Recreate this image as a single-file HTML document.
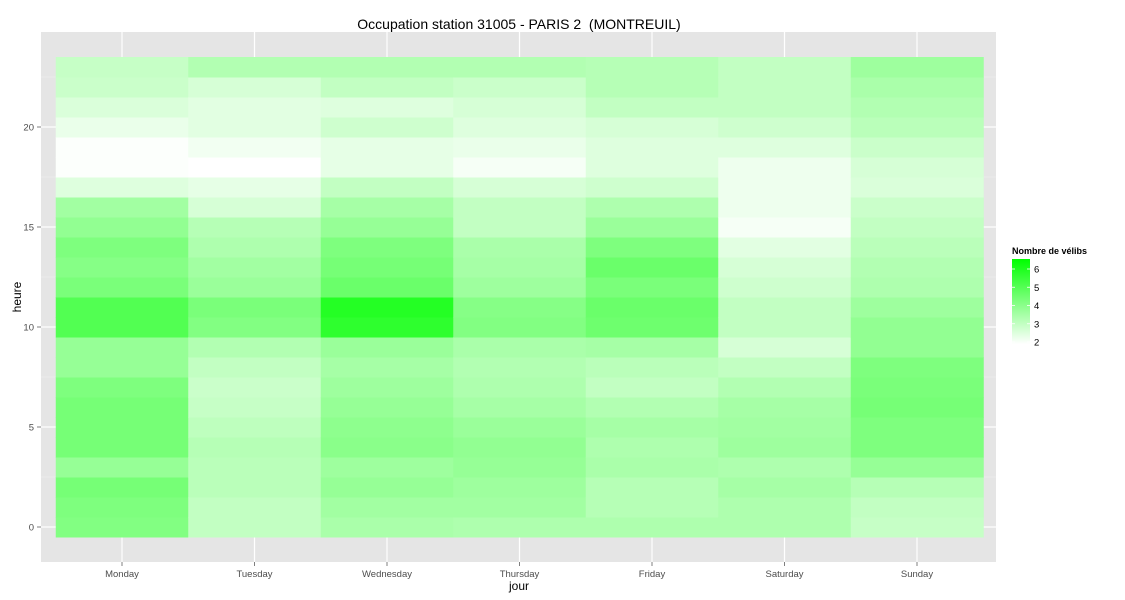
<!DOCTYPE html>
<html><head><meta charset="utf-8"><style>body{margin:0;background:#fff}svg{display:block;font-family:"Liberation Sans",Arial,sans-serif}</style></head>
<body>
<svg id="chart" width="1125" height="600" viewBox="0 0 1125 600" xmlns="http://www.w3.org/2000/svg">
<rect x="41" y="32" width="955" height="530" fill="#e5e5e5"/>
<g id="grid"></g>
<g id="tiles"></g>
<g id="axes"></g>
<text x="519" y="29" font-size="14" text-anchor="middle" fill="#000">Occupation station 31005 - PARIS 2 &#160;(MONTREUIL)</text>
<text x="519" y="590" font-size="12" text-anchor="middle">jour</text>
<text x="21" y="297" font-size="12" text-anchor="middle" transform="rotate(-90 21 297)">heure</text>
<g id="legend">
<text x="1012" y="254" font-size="9" font-weight="bold">Nombre de vélibs</text>
<defs><linearGradient id="lg" x1="0" y1="1" x2="0" y2="0"><stop offset="0" stop-color="#ffffff"/><stop offset="1" stop-color="#00ff00"/></linearGradient></defs>
<rect x="1012" y="259" width="18" height="85" fill="url(#lg)"/>
</g>
</svg>
<script>
const days = ["Monday","Tuesday","Wednesday","Thursday","Friday","Saturday","Sunday"];
const yTicks = [0,5,10,15,20];
const legendTicks = [2,3,4,5,6];
const mon = [4.18,4.25,4.4,3.81,4.4,4.4,4.4,4.25,3.81,3.81,5.06,5.06,4.32,4.1,4.25,3.88,3.59,2.5,1.95,1.95,2.28,2.57,2.86,2.94];
const tue = [3.01,3.01,3.15,3.15,3.23,3.08,2.94,2.86,3.01,3.30,4.18,4.32,3.74,3.59,3.37,3.23,2.64,2.35,1.9,2.13,2.42,2.42,2.64,3.30];
const wed = [3.45,3.59,3.81,3.67,4.03,3.96,3.81,3.67,3.52,3.74,5.71,5.9,4.62,4.4,4.25,3.81,3.52,3.01,2.35,2.35,2.79,2.5,3.01,3.30];
const thu = [3.37,3.59,3.67,3.81,3.88,3.74,3.52,3.37,3.30,3.45,4.18,4.1,3.67,3.52,3.45,3.01,3.01,2.64,2.06,2.28,2.5,2.64,2.86,3.30];
const fri = [3.37,3.23,3.23,3.45,3.37,3.52,3.30,3.01,3.15,3.52,4.55,4.62,4.32,4.62,4.25,3.74,3.37,2.79,2.5,2.5,2.64,3.01,3.23,3.23];
const sat = [3.37,3.37,3.52,3.37,3.67,3.59,3.52,3.30,3.01,2.64,3.01,3.01,2.79,2.64,2.42,2.06,2.21,2.21,2.21,2.5,2.79,3.01,3.01,3.01];
const sun = [2.94,3.01,3.23,3.81,4.25,4.25,4.4,4.32,4.25,3.88,3.88,3.67,3.37,3.30,3.15,3.01,2.86,2.57,2.64,2.86,3.15,3.30,3.45,3.67];
const series = [mon,tue,wed,thu,fri,sat,sun];

const NS="http://www.w3.org/2000/svg";
const vmin=1.9, vmax=6.55;
const xC = i => 122 + 132.5*i;
const colW = 132.5;
const yC = h => 527 - 20*h;
const rowH = 20;
const ly = v => 342 - (v-2)*18.25;
function color(v){const t=Math.max(0,Math.min(1,(v-vmin)/(vmax-vmin)));const c=Math.round(255*(1-t));return `rgb(${c},255,${c})`;}
function mk(tag,attrs,parent){const e=document.createElementNS(NS,tag);for(const k in attrs)e.setAttribute(k,attrs[k]);parent.appendChild(e);return e;}
const grid=document.getElementById('grid'),tiles=document.getElementById('tiles'),axes=document.getElementById('axes'),legend=document.getElementById('legend');
for(let k=0;k<yTicks.length;k++){
  const v=yTicks[k]+2.5;const l=mk('line',{x1:41,x2:996,y1:yC(v),y2:yC(v),stroke:'#f2f2f2','stroke-width':0.6},grid);
  
  
}
yTicks.forEach(v=>{const l=mk('line',{x1:41,x2:996,y1:yC(v),y2:yC(v),stroke:'#fff','stroke-width':1.2},grid);
  
  });
days.forEach((d,i)=>{const l=mk('line',{x1:xC(i),x2:xC(i),y1:32,y2:562,stroke:'#fff','stroke-width':1.2},grid);
  
  });
series.forEach((arr,i)=>{arr.forEach((v,h)=>{
  const r=mk('rect',{x:xC(i)-colW/2,y:yC(h)-rowH/2,width:colW+0.5,height:rowH+0.5,fill:color(v)},tiles);
  
  
});});
days.forEach((d,i)=>{
  mk('line',{x1:xC(i),x2:xC(i),y1:562,y2:566,stroke:'#7f7f7f'},axes);
  const t=mk('text',{x:xC(i),y:577,'font-size':9.5,'text-anchor':'middle',fill:'#4d4d4d'},axes);t.textContent=d;
  
  
});
yTicks.forEach(v=>{
  mk('line',{x1:37,x2:41,y1:yC(v),y2:yC(v),stroke:'#7f7f7f'},axes);
  const t=mk('text',{x:34,y:yC(v)+3.5,'font-size':9.5,'text-anchor':'end',fill:'#4d4d4d'},axes);t.textContent=v;
  
  
});
legendTicks.forEach(v=>{
  mk('line',{x1:1012,x2:1015,y1:ly(v),y2:ly(v),stroke:'#fff','stroke-width':0.8},legend);
  mk('line',{x1:1027,x2:1030,y1:ly(v),y2:ly(v),stroke:'#fff','stroke-width':0.8},legend);
  const t=mk('text',{x:1034,y:ly(v)+3.5,'font-size':9.5,fill:'#000'},legend);t.textContent=v;
  
  
});
</script>
</body></html>
